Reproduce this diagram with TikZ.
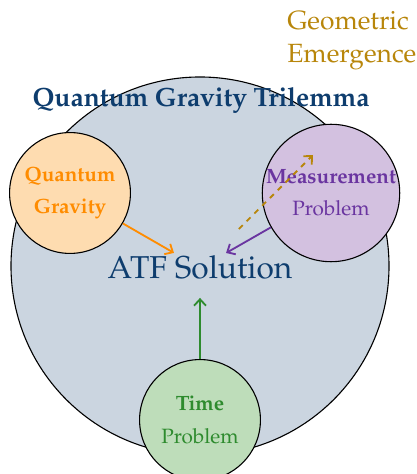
\documentclass[tikz,border=0pt]{standalone}
\usepackage[T1]{fontenc}
\usepackage{mathpazo}
\usetikzlibrary{arrows.meta,positioning}
\definecolor{trifill}{HTML}{CBD5E0}
\definecolor{titleblue}{HTML}{0E3D6E}
\definecolor{qgfill}{HTML}{FEDCB0}
\definecolor{qgtext}{HTML}{FF8C00}
\definecolor{mpfill}{HTML}{D3C1E0}
\definecolor{mptext}{HTML}{6A35A0}
\definecolor{tpfill}{HTML}{BEDDBA}
\definecolor{tptext}{HTML}{2E8B2E}
\definecolor{geogold}{HTML}{B8860B}
\tikzset{
  corner/.style={draw, circle, semithick, minimum size=66pt, inner sep=0pt, align=center, font=\fontsize{11.3}{17.5}\selectfont},
  arr/.style={-{Straight Barb[length=3.5pt, width=6.5pt]}, line width=1pt, shorten >=16.4pt},
  darr/.style={-{Straight Barb[length=3.5pt, width=6.5pt]}, line width=1pt, dashed, shorten <=30pt},
}

\begin{document}
\begin{tikzpicture}[x=0.546pt, y=0.546pt]
\useasboundingbox (0,0) rectangle (417,474);
\node[draw, circle, semithick, fill=trifill, minimum size=206.4pt] (tri) at (200,208) {};
\node[font=\Large\bfseries, text=titleblue, anchor=base] (title) at (201,367) {Quantum Gravity Trilemma};
\node[font=\LARGE, text=titleblue, anchor=base] (atf) at (200,195) {ATF Solution};
\node[corner, fill=qgfill, text=qgtext] (qg) at (70,281) {\textbf{Quantum}\\\textbf{Gravity}};
\node[corner, fill=mpfill, text=mptext] (mp) at (331,281) {\textbf{Measurement}\\Problem};
\node[corner, fill=tpfill, text=tptext] (tp) at (200,54) {\textbf{Time}\\Problem};
\node[font=\Large, text=geogold, align=left, anchor=west, inner sep=0pt] (geo) at (287,433) {Geometric\\Emergence};
\coordinate (geoend) at (313,319);
\draw[arr, qgtext] (qg) -- (atf.center);
\draw[arr, mptext] (mp) -- (atf.center);
\draw[arr, tptext] (tp) -- (atf.center);
\draw[darr, geogold] (atf.center) -- (geoend);
\end{tikzpicture}
\end{document}
